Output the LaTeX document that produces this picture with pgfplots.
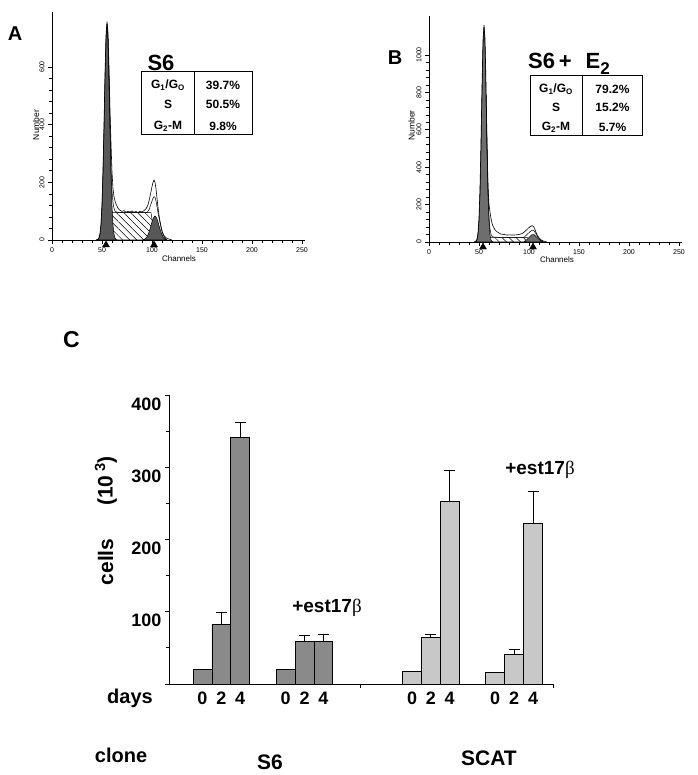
\documentclass[border=0pt]{standalone}
\usepackage{fontspec}
\setmainfont{Liberation Sans}
\newfontfamily\seriffont{Liberation Serif}
\usepackage{pgfplots}
\pgfplotsset{compat=1.18}
\usetikzlibrary{patterns.meta}
\definecolor{dkbar}{RGB}{138,138,138}
\definecolor{ltbar}{RGB}{200,200,200}
\definecolor{histA}{RGB}{88,88,88}
\definecolor{histB}{RGB}{110,110,110}
\newcommand{\fs}[1]{\fontsize{#1}{#1}\selectfont}
\begin{document}
\begin{tikzpicture}[x=1pt,y=1pt]
\useasboundingbox (0,0) rectangle (697,775);
\pgfplotsset{histo/.style={scale only axis, enlargelimits=false, clip=false,
  axis x line=bottom, axis y line=left, axis line style={-, line width=0.6pt},
  xmin=0, xmax=253, xtick={0,50,...,250}, minor x tick num=4,
  minor y tick num=4, tick align=outside, major tick length=4pt, minor tick length=3pt,
  tick style={line width=0.6pt, black}, ticklabel style={font=\fs{7}},
  yticklabel style={rotate=90, anchor=south},
  /pgf/number format/assume math mode=true, /pgf/number format/1000 sep={},
  scaled ticks=false},
  errb/.style={error bars/.cd, y dir=plus, y explicit, error bar style={line width=0.8pt, black},
  error mark options={rotate=90, line width=0.8pt, mark size=5.5pt, black}}}
% ---------------- Panel A
\begin{axis}[histo, at={(52pt,535pt)}, anchor=south west, width=253pt, height=227.8pt,
  ymin=0, ymax=790, ytick={0,200,400,600}]
\addplot[draw=black, line width=0.5pt, pattern={Lines[angle=-45,distance=5pt,line width=0.5pt]}]
  coordinates {(59,0)(59,95)(99,95)(103,0)} \closedcycle;
\addplot[draw=black, line width=0.5pt, fill=histA] coordinates {
(45,0)(46,2)(47,7)(48,20)(49,52)(50,118)(51,230)(52,385)(53,558)(54,696)(55,750)(56,696)(57,558)(58,385)(59,230)(60,118)(61,52)(62,20)(63,7)(64,2)(65,0)} \closedcycle;
\addplot[draw=black, line width=0.5pt, fill=histA] coordinates {
(91,0)(92,2)(93,4)(94,7)(95,11)(96,18)(97,27)(98,38)(99,50)(100,63)(101,73)(102,80)(103,83)(104,80)(105,73)(106,63)(107,50)(108,38)(109,27)(110,18)(111,11)(112,7)(113,4)(114,2)(115,0)} \closedcycle;
\addplot[draw=black, line width=0.5pt] coordinates {
(55,750)(56,700)(57,560)(58,400)(59,250)(60,170)(61,130)(62,110)(63,100)(65,96)(70,95)(80,95)(95,95)(97,105)(99,125)(101,145)(102,150)(103,148)(104,135)(105,115)(106,95)(107,78)(108,60)(109,44)(110,30)(111,20)(112,12)(113,6)(114,3)(115,0)};
\addplot[draw=black, line width=0.6pt] coordinates {
(44,0)(46,3)(47,8)(48,22)(49,55)(50,125)(51,245)(52,400)(53,575)(54,710)(55,757)(56,720)(57,600)(58,450)(59,335)(60,235)(61,178)(62,150)(63,135)(64,125)(65,118)(66,110)(68,103)(70,99)(72,102)(74,96)(76,100)(78,97)(80,101)(82,96)(84,99)(86,95)(88,100)(90,97)(92,102)(94,108)(96,122)(98,150)(99,168)(100,185)(101,200)(102,208)(103,200)(104,178)(105,145)(106,112)(107,86)(108,65)(109,48)(110,32)(111,22)(112,15)(114,8)(116,4)(118,2)(120,0)};
\addplot[only marks, mark=triangle*, mark size=4pt, mark options={fill=black, draw=black}] coordinates {(54,-17)(102,-17)};
\end{axis}
% ---------------- Panel B
\begin{axis}[histo, at={(429pt,533pt)}, anchor=south west, width=253pt, height=226.3pt,
  ymin=0, ymax=1210, ytick={0,200,...,1000}]
\addplot[draw=black, line width=0.5pt, pattern={Lines[angle=-45,distance=5pt,line width=0.5pt]}]
  coordinates {(60,0)(60,25)(98,25)(102,0)} \closedcycle;
\addplot[draw=black, line width=0.5pt, fill=histB] coordinates {
(46,0)(47,3)(48,11)(49,38)(50,108)(51,253)(52,491)(53,788)(54,1046)(55,1150)(56,1046)(57,788)(58,491)(59,253)(60,108)(61,38)(62,11)(63,3)(64,0)} \closedcycle;
\addplot[draw=black, line width=0.5pt, fill=histB] coordinates {
(95,0)(96,5)(97,9)(98,13)(99,18)(100,24)(101,29)(102,35)(103,39)(104,40)(105,39)(106,35)(107,29)(108,24)(109,18)(110,13)(111,9)(112,5)(113,3)(114,0)} \closedcycle;
\addplot[draw=black, line width=0.5pt] coordinates {
(57,788)(58,520)(59,280)(60,140)(61,70)(62,40)(63,30)(65,26)(70,25)(95,25)(97,35)(99,45)(101,55)(103,62)(104,63)(105,60)(106,52)(107,42)(108,34)(109,26)(110,19)(111,13)(112,8)(113,5)(114,2)(115,0)};
\addplot[draw=black, line width=0.6pt] coordinates {
(45,0)(47,5)(48,15)(49,50)(50,130)(51,290)(52,540)(53,830)(54,1080)(55,1160)(56,1090)(57,840)(58,540)(59,300)(60,200)(61,160)(62,125)(63,100)(64,85)(65,75)(66,65)(68,55)(70,48)(72,42)(75,40)(78,37)(80,38)(85,37)(90,40)(93,45)(95,52)(97,62)(99,72)(101,82)(103,87)(104,85)(105,78)(106,66)(107,52)(108,40)(109,30)(110,22)(112,12)(114,6)(116,3)(118,0)};
\addplot[only marks, mark=triangle*, mark size=4pt, mark options={fill=black, draw=black}] coordinates {(54,-27)(104,-27)};
\end{axis}
% ---------------- Panel C
\begin{axis}[at={(169pt,91pt)}, anchor=south west, scale only axis, enlargelimits=false, clip=false,
  width=384pt, height=289pt, xmin=169, xmax=553, ymin=0, ymax=400,
  axis x line=bottom, axis y line=left, axis line style={-, line width=0.8pt},
  ytick={0,100,200,300,400}, yticklabels={,100,200,300,400}, minor y tick num=1,
  xtick={360,553}, xticklabels={,}, tick align=outside, major tick length=4pt, minor tick length=3pt,
  tick style={line width=0.8pt, black},
  yticklabel style={font=\bfseries\fs{18}, yshift=-9pt},
  /pgf/number format/assume math mode=true,
  ybar, bar width=18.8, bar shift=0pt]
% day 0 bars (no error bars)
\addplot[fill=dkbar, draw=black, line width=0.6pt] coordinates {(202.5,20.3) (285.7,20)};
\addplot[fill=ltbar, draw=black, line width=0.6pt] coordinates {(412,17) (495,16)};
% day 2 and 4 bars with error bars
\addplot[fill=dkbar, draw=black, line width=0.6pt, errb]
  coordinates {(221.3,82.6) +- (0,16) (240.1,341) +- (0,21)
  (304.5,58.6) +- (0,8.3) (323.3,58.6) +- (0,10.4)};
\addplot[fill=ltbar, draw=black, line width=0.6pt, errb]
  coordinates {(430.8,64) +- (0,4.7) (449.6,253) +- (0,42)
  (514,41.5) +- (0,6.5) (533,222) +- (0,44)};
\end{axis}
% ---------------- annotations
\node[font=\bfseries\fs{20}] at (15,741.5) {A};
\node[font=\bfseries\fs{20}] at (395,717) {B};
\node[font=\bfseries\fs{23}] at (71.5,435) {C};
% table A
\node[font=\bfseries\fs{22}] at (161,712) {S6};
\draw[line width=1pt] (141.7,703.3) rectangle (252.3,640);
\draw[line width=1pt] (194,703.3) -- (194,640);
\begin{scope}[every node/.style={font=\bfseries\fs{12}}]
\node at (168,690) {G\textsubscript{1}/G\textsubscript{O}};
\node at (168,670.5) {S};
\node at (168,649) {G\textsubscript{2}-M};
\node at (223,690) {39.7\%};
\node at (223,670.5) {50.5\%};
\node at (223,649) {9.8\%};
\end{scope}
% table B
\node[font=\bfseries\fs{22}, anchor=west, inner sep=0pt] at (528,711) {S6\,+\hspace{14pt}E\raisebox{-6pt}{\fs{17}2}};
\draw[line width=1pt] (530,699) rectangle (642.3,639);
\draw[line width=1pt] (582.7,699) -- (582.7,639);
\begin{scope}[every node/.style={font=\bfseries\fs{12}}]
\node at (556,686) {G\textsubscript{1}/G\textsubscript{O}};
\node at (556,668) {S};
\node at (556,648) {G\textsubscript{2}-M};
\node at (612.5,686) {79.2\%};
\node at (612.5,668) {15.2\%};
\node at (612.5,648) {5.7\%};
\end{scope}
% axis labels of histograms
\node[font=\fs{8.5}, rotate=90] at (36,650) {Number};
\node[font=\fs{8.5}, rotate=90] at (411.5,649.5) {Number};
\node[font=\fs{8}] at (179,516.5) {Channels};
\node[font=\fs{8}] at (557,515) {Channels};
% panel C labels
\node[font=\bfseries\fs{21}, rotate=90] at (105.5,213) {cells};
\node[font=\bfseries\fs{21}, rotate=90] at (106,294) {(10\,\textsuperscript{3})};
\node[font=\bfseries\fs{20}] at (130,77) {days};
\begin{scope}[every node/.style={font=\bfseries\fs{18}}]
\node at (202.5,77) {0}; \node at (221.3,77) {2}; \node at (240.1,77) {4};
\node at (285.7,77) {0}; \node at (304.5,77) {2}; \node at (323.3,77) {4};
\node at (412,77) {0}; \node at (430.8,77) {2}; \node at (449.6,77) {4};
\node at (495,77) {0}; \node at (514,77) {2}; \node at (533,77) {4};
\end{scope}
\node[font=\bfseries\fs{20}] at (121,20) {clone};
\node[font=\bfseries\fs{21}] at (270,13) {S6};
\node[font=\bfseries\fs{21}] at (489,17) {SCAT};
\node[font=\bfseries\fs{19}] at (327,167.5) {+est17{\mdseries\seriffont β}};
\node[font=\bfseries\fs{19}] at (540,305) {+est17{\mdseries\seriffont β}};
\end{tikzpicture}
\end{document}
